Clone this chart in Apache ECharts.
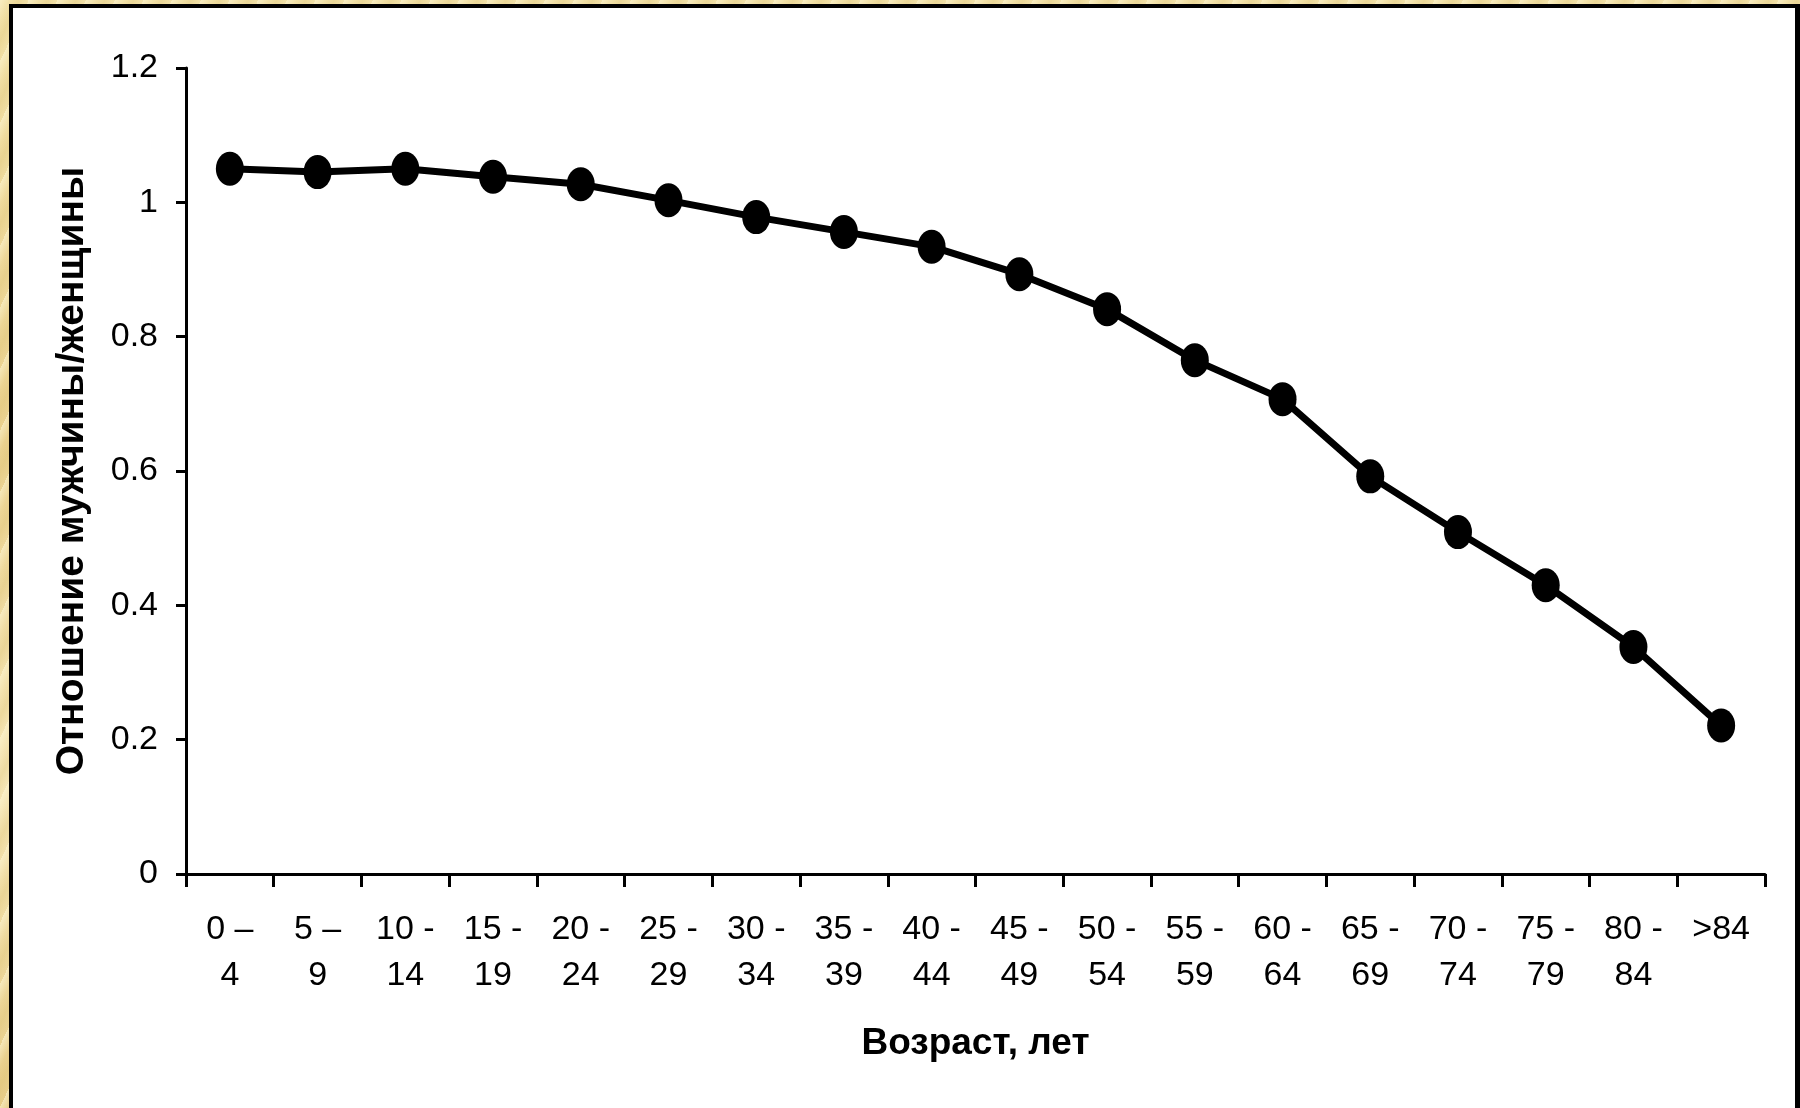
<!DOCTYPE html>
<html>
<head>
<meta charset="utf-8">
<script src="https://cdn.jsdelivr.net/npm/echarts@6/dist/echarts.min.js"></script>
<style>
  html, body { margin: 0; padding: 0; width: 1800px; height: 1108px; overflow: hidden; }
  body {
    background:
      repeating-linear-gradient(115deg, rgba(255,248,215,0.55) 0px, rgba(255,248,215,0) 9px, rgba(214,186,104,0.25) 17px, rgba(255,248,215,0) 26px),
      linear-gradient(180deg, #f2e1a8 0%, #ead18e 40%, #f5e6b6 70%, #e7cd88 100%);
  }
  #frame {
    position: absolute; left: 9px; top: 4px; width: 1782px; height: 1104px;
    background: #ffffff;
    border-left: 4px solid #000; border-top: 4px solid #000; border-right: 5px solid #000;
  }
  #chart { position: absolute; left: 0; top: 0; width: 1800px; height: 1108px; }
</style>
</head>
<body>
<div id="frame"></div>
<div id="chart"></div>
<script>
const categories = ["0 \u2013\n4", "5 \u2013\n9", "10 -\n14", "15 -\n19", "20 -\n24", "25 -\n29", "30 -\n34", "35 -\n39", "40 -\n44", "45 -\n49", "50 -\n54", "55 -\n59", "60 -\n64", "65 -\n69", "70 -\n74", "75 -\n79", "80 -\n84", ">84"];
const ratioValues = [1.050, 1.045, 1.050, 1.038, 1.027, 1.003, 0.978, 0.956, 0.934, 0.893, 0.841, 0.765, 0.707, 0.592, 0.509, 0.430, 0.338, 0.221];
const yTickMin = 0, yTickMax = 1.2, yTickStep = 0.2;
const xTitle = "Возраст, лет";
const yTitle = "Отношение мужчины/женщины";

const chart = echarts.init(document.getElementById('chart'), null, { renderer: 'canvas' });
const font = "'Liberation Sans', Arial, sans-serif";
chart.setOption({
  backgroundColor: 'transparent',
  animation: false,
  grid: { left: 186, right: 35, top: 68, bottom: 234 },
  xAxis: {
    type: 'category',
    data: categories,
    boundaryGap: true,
    name: xTitle,
    nameLocation: 'middle',
    nameGap: 151,
    nameTextStyle: { fontFamily: font, fontSize: 37, fontWeight: 'bold', color: '#000' },
    axisLine: { show: true, onZero: false, lineStyle: { color: '#000', width: 3 } },
    axisTick: { show: true, alignWithLabel: false, length: 13, lineStyle: { color: '#000', width: 3 } },
    axisLabel: { interval: 0, margin: 33, fontFamily: font, fontSize: 34, lineHeight: 46, color: '#000' },
    splitLine: { show: false }
  },
  yAxis: {
    type: 'value',
    min: yTickMin, max: yTickMax, interval: yTickStep,
    name: yTitle,
    nameLocation: 'middle',
    nameGap: 94,
    nameRotate: 90,
    nameTextStyle: { fontFamily: font, fontSize: 39, fontWeight: 'bold', color: '#000' },
    axisLine: { show: true, lineStyle: { color: '#000', width: 3 } },
    axisTick: { show: true, length: 10, lineStyle: { color: '#000', width: 3 } },
    axisLabel: { margin: 28, fontFamily: font, fontSize: 34, color: '#000' },
    splitLine: { show: false }
  },
  series: [{
    type: 'line',
    data: ratioValues,
    symbol: 'circle',
    symbolSize: [28, 34],
    itemStyle: { color: '#000' },
    lineStyle: { color: '#000', width: 7 },
    z: 3
  }]
});
</script>
</body>
</html>
